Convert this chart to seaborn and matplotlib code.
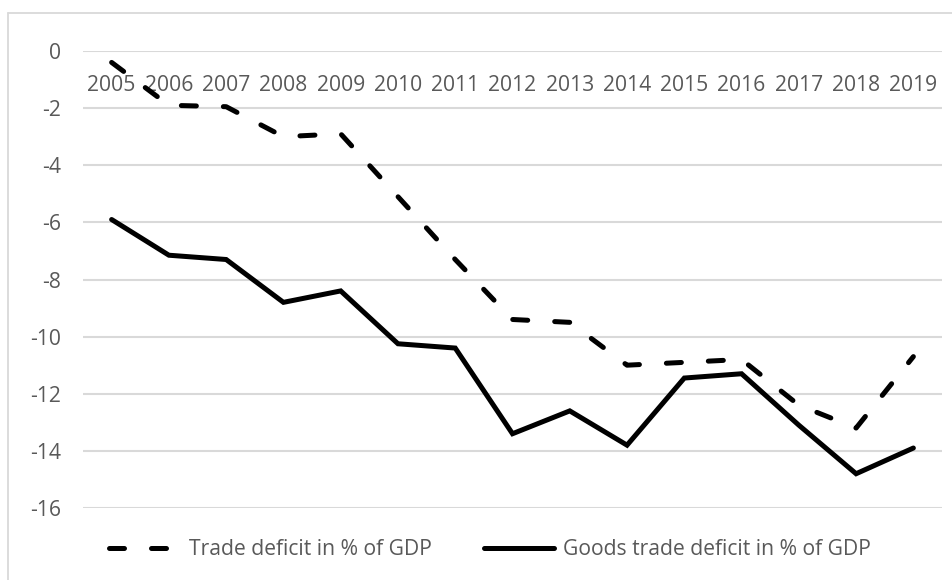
import matplotlib
matplotlib.use("Agg")
import matplotlib.pyplot as plt
import seaborn as sns
import pandas as pd
from matplotlib.lines import Line2D

years = list(range(2005, 2020))
trade_deficit = [-0.4, -1.9, -1.95, -3.0, -2.9, -5.1, -7.3, -9.4, -9.5, -11.0, -10.9, -10.8, -12.4, -13.2, -10.7]
goods_deficit = [-5.9, -7.15, -7.3, -8.8, -8.4, -10.25, -10.4, -13.4, -12.6, -13.8, -11.45, -11.3, -13.1, -14.8, -13.9]
series_names = ["Trade deficit in % of GDP", "Goods trade deficit in % of GDP"]
y_ticks = list(range(-16, 1, 2))

df = pd.concat([
    pd.DataFrame({"year": years, "value": trade_deficit, "series": series_names[0]}),
    pd.DataFrame({"year": years, "value": goods_deficit, "series": series_names[1]}),
])

sns.set_theme(style="white")
plt.rcParams["font.family"] = ["Open Sans", "DejaVu Sans"]
text_gray = "#595959"
grid_gray = "#d9d9d9"
fs = 15.2
lw = 3.6

fig = plt.figure(figsize=(9.52, 5.8), dpi=100)
ax = fig.add_axes([83 / 952, 1 - 508 / 580, (942 - 83) / 952, (508 - 51) / 580])

sns.lineplot(data=df, x="year", y="value", hue="series", style="series",
             palette=["black", "black"],
             dashes={series_names[0]: (3.0, 5.4), series_names[1]: ""},
             linewidth=lw, ax=ax, legend=True)
for ln in ax.lines:
    ln.set_dash_capstyle("round")
    ln.set_solid_capstyle("round")
    ln.set_solid_joinstyle("miter")

ax.get_legend().remove()

ax.set_xlim(years[0] - 0.5, years[-1] + 0.5)
ax.set_ylim(-16, 0)
ax.set_yticks(y_ticks)
ax.set_yticklabels([str(v) for v in y_ticks])
ax.set_xticks(years)
ax.set_xticklabels([str(y) for y in years])
ax.xaxis.tick_top()
ax.tick_params(axis="x", length=0, pad=-32.5, labelsize=fs, colors=text_gray)
ax.tick_params(axis="y", length=0, pad=16, labelsize=fs, colors=text_gray)
ax.set_xlabel("")
ax.set_ylabel("")
ax.yaxis.grid(True, color=grid_gray, linewidth=1.5)
ax.xaxis.grid(False)
ax.set_axisbelow(True)
for s in ax.spines.values():
    s.set_visible(False)

# legend below the plot
handles = [
    Line2D([], [], color="black", linewidth=lw, dashes=(3.0, 5.4), dash_capstyle="round"),
    Line2D([], [], color="black", linewidth=lw, solid_capstyle="round"),
]
fig.legend(handles, series_names, loc="center", bbox_to_anchor=(0.515, 0.052),
           ncol=2, frameon=False, fontsize=fs, handlelength=3.3,
           handletextpad=0.45, columnspacing=2.5, labelcolor=text_gray)

# outer chart border (top and left only visible)
fig.add_artist(Line2D([8 / 952, 1.0], [1 - 13 / 580, 1 - 13 / 580], color=grid_gray, linewidth=1.3,
                      transform=fig.transFigure))
fig.add_artist(Line2D([8 / 952, 8 / 952], [0.0, 1 - 13 / 580], color=grid_gray, linewidth=1.3,
                      transform=fig.transFigure))

fig.savefig("out.png", dpi=100)
